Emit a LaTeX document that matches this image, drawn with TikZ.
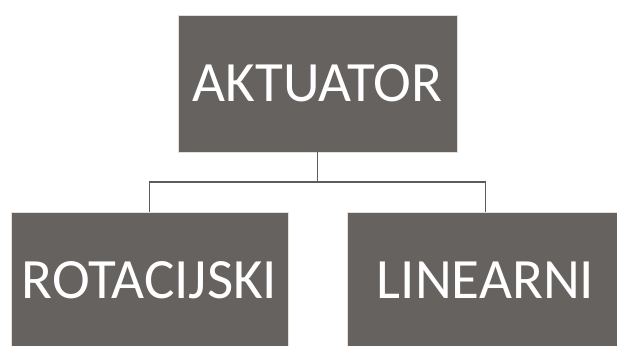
\documentclass[tikz,border=0pt]{standalone}
\usepackage{fontspec}
\setmainfont{Carlito}
\usetikzlibrary{positioning}
\definecolor{boxgray}{HTML}{666260}
\definecolor{boxedge}{HTML}{E4E0D8}
\definecolor{linkgray}{HTML}{5C5C5C}
\tikzset{
  unitbox/.style={draw=boxedge,line width=0.8pt,fill=boxgray,text=white,
    minimum width=277pt,minimum height=137pt,inner sep=0pt,
    font=\fontsize{57}{60}\selectfont},
  link/.style={draw=linkgray,line width=1.2pt}
}

\begin{document}
\begin{tikzpicture}[x=1pt,y=1pt]
  \useasboundingbox (0,0) rectangle (617,-345);
  % top unit
  \node[unitbox,minimum width=279pt] (akt) at (317.5,-83.5) {AKTUATOR};
  % the two kinds
  \node[unitbox] (rot) at (149.5,-280.5) {ROTACIJSKI};
  \node[unitbox] (lin) at (485.5,-280.5) {LINEARNI};
  \coordinate (fork) at ([yshift=-29.5pt]akt.south);
  \draw[link] (akt.south) -- (fork) -| (rot.north);
  \draw[link] (fork) -| (lin.north);
\end{tikzpicture}
\end{document}
